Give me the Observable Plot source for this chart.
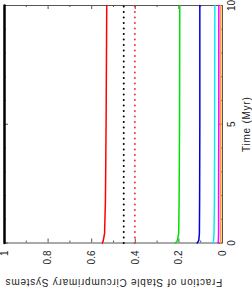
<!DOCTYPE html>
<html><head><meta charset="utf-8">
<script src="https://cdn.jsdelivr.net/npm/d3@7"></script>
<script src="https://cdn.jsdelivr.net/npm/@observablehq/plot@0.6"></script>
<style>body{margin:0;background:#fff}#chart svg{display:block}</style>
</head><body><div id="chart"></div>
<script>
// Time (Myr) sample points shared by the series
const time = [0, 0.1, 0.4, 1.8, 5, 10];
// Fraction of stable circumprimary systems per series
const fracBlack      = [1.000, 1.000, 1.000, 1.000, 1.000, 1.000];
const fracRed        = [0.551, 0.547, 0.541, 0.537, 0.534, 0.531];
const fracBlackDot   = [0.453, 0.453, 0.453, 0.453, 0.453, 0.453];
const fracRedDot     = [0.402, 0.402, 0.402, 0.402, 0.402, 0.402];
const fracGreen      = [0.216, 0.207, 0.201, 0.199, 0.197, 0.196];
const fracBlue       = [0.116, 0.109, 0.106, 0.105, 0.104, 0.104];
const fracCyan       = [0.043, 0.041, 0.039, 0.037, 0.036, 0.035];
const fracMagenta    = [0.020, 0.019, 0.018, 0.018, 0.017, 0.017];
const fracOrange     = [0.008, 0.008, 0.008, 0.008, 0.008, 0.008];

const fracTicks = [0, 0.2, 0.4, 0.6, 0.8, 1];
const fracMinorTicks = [0.1, 0.3, 0.5, 0.7, 0.9];
const timeTicks = [0, 5, 10];
const timeMinorTicks = [1, 2, 3, 4, 6, 7, 8, 9];
const xLabel = "Time (Myr)";
const yLabel = "Fraction of Stable Circumprimary Systems";

const rows = (arr) => time.map((t, i) => ({t, f: arr[i]}));

const W = 252, H = 290, mL = 4, mR = 30, mT = 5, mB = 47.5;
const fw = W - mL - mR, fh = H - mT - mB;
const axisColor = "#555";
const textColor = "#222";

const solid = (arr, color, w = 1.5) => Plot.line(rows(arr), {x: "f", y: "t", stroke: color, strokeWidth: w});
const dotted = (arr, color) => Plot.line(rows(arr), {x: "f", y: "t", stroke: color, strokeWidth: 2, strokeDasharray: "0,5.5", strokeLinecap: "round"});

const plot = Plot.plot({
  width: W, height: H,
  marginLeft: mL, marginRight: mR, marginTop: mT, marginBottom: mB,
  x: {domain: [0, 1], reverse: true, axis: null},
  y: {domain: [0, 10], axis: null},
  style: {fontFamily: "'Liberation Sans', Arial, sans-serif", fontSize: "10px", background: "white", overflow: "visible"},
  marks: [
    // inward ticks on fraction axis (bottom and top)
    Plot.tickX(fracTicks, {x: d => d, insetTop: fh - 4, stroke: axisColor}),
    Plot.tickX(fracMinorTicks, {x: d => d, insetTop: fh - 2, stroke: axisColor}),
    Plot.tickX(fracTicks, {x: d => d, insetBottom: fh - 4, stroke: axisColor}),
    Plot.tickX(fracMinorTicks, {x: d => d, insetBottom: fh - 2, stroke: axisColor}),
    // inward ticks on time axis (left and right)
    Plot.tickY(timeTicks, {y: d => d, insetRight: fw - 4, stroke: axisColor}),
    Plot.tickY(timeMinorTicks, {y: d => d, insetRight: fw - 2, stroke: axisColor}),
    Plot.tickY(timeTicks, {y: d => d, insetLeft: fw - 4, stroke: axisColor}),
    Plot.tickY(timeMinorTicks, {y: d => d, insetLeft: fw - 2, stroke: axisColor}),
    Plot.frame({stroke: axisColor}),
    // series
    solid(fracOrange, "#ffa020"),
    solid(fracMagenta, "#ff00ff"),
    solid(fracCyan, "#00f0f0"),
    solid(fracBlue, "#0000e0"),
    solid(fracGreen, "#00e000"),
    dotted(fracRedDot, "#ff3030"),
    dotted(fracBlackDot, "#000"),
    solid(fracRed, "#ff0000"),
    solid(fracBlack, "#000", 2.5),
    // tick labels
    Plot.text(fracTicks, {x: d => d, text: d => String(d), frameAnchor: "bottom", dy: 7.5, rotate: -90, textAnchor: "end", lineAnchor: "middle", fill: textColor}),
    Plot.text(timeTicks, {y: d => d, text: d => String(d), frameAnchor: "right", dx: 5.5, rotate: -90, textAnchor: "middle", lineAnchor: "top", fill: textColor}),
    // axis labels
    Plot.text([xLabel], {text: d => d, frameAnchor: "right", dx: 20.5, rotate: -90, textAnchor: "middle", lineAnchor: "top", fill: textColor}),
    Plot.text([yLabel], {text: d => d, frameAnchor: "bottom", dy: 39.5, rotate: 180, textAnchor: "middle", lineAnchor: "middle", fill: textColor})
  ]
});
d3.select(plot).selectAll("text")
  .filter(function() { const s = this.textContent; return s === xLabel || s === yLabel; })
  .attr("letter-spacing", "0.75px");
document.getElementById("chart").appendChild(plot);
</script>
</body></html>
